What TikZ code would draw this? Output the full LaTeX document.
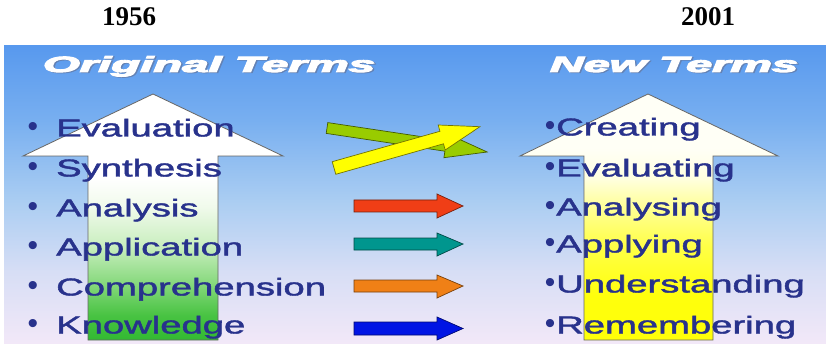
\documentclass[tikz,border=0pt]{standalone}
\usepackage{fontspec}
\usepackage{graphicx}
\setmainfont{Liberation Sans}
\newfontfamily\yearfont{Liberation Serif}
\newfontfamily\titlefont{Liberation Sans Bold Italic}
\definecolor{termblue}{RGB}{40,50,140}
\definecolor{tshadow}{RGB}{100,130,180}
\definecolor{bgA}{RGB}{88,153,238}
\definecolor{bgB}{RGB}{120,175,240}
\definecolor{bgC}{RGB}{170,205,242}
\definecolor{bgD}{RGB}{215,222,245}
\definecolor{bgE}{RGB}{242,232,248}
\definecolor{gA}{RGB}{50,185,50}
\definecolor{gB}{RGB}{72,195,66}
\definecolor{gC}{RGB}{130,215,120}
\definecolor{gD}{RGB}{200,238,190}
\definecolor{gE}{RGB}{240,250,235}
\definecolor{yA}{RGB}{255,255,0}
\definecolor{yB}{RGB}{255,255,12}
\definecolor{yC}{RGB}{255,255,70}
\definecolor{yD}{RGB}{255,255,150}
\definecolor{yE}{RGB}{255,255,225}
\definecolor{yF}{RGB}{255,255,246}
\definecolor{arRed}{RGB}{240,62,22}
\definecolor{arTeal}{RGB}{0,150,142}
\definecolor{arOrange}{RGB}{240,128,22}
\definecolor{arBlue}{RGB}{0,20,228}
\definecolor{arGreen}{RGB}{153,204,0}
\definecolor{arYellow}{RGB}{255,255,0}
\pgfdeclareverticalshading{bgshade}{100bp}{color(0bp)=(bgE); color(25bp)=(bgE); color(37bp)=(bgD); color(49bp)=(bgC); color(62.5bp)=(bgB); color(75bp)=(bgA); color(100bp)=(bgA)}
\pgfdeclareverticalshading{greenshade}{100bp}{color(0bp)=(gA); color(25bp)=(gA); color(30bp)=(gB); color(36bp)=(gC); color(44bp)=(gD); color(52bp)=(gE); color(58bp)=(white); color(100bp)=(white)}
\pgfdeclareverticalshading{yellowshade}{100bp}{color(0bp)=(yA); color(34bp)=(yB); color(44bp)=(yC); color(52bp)=(yD); color(58bp)=(yE); color(64bp)=(yF); color(100bp)=(yF)}
% stroked (heavier) text through the PDF text render mode
\newcommand{\strk}[2]{\special{pdf:literal direct 2 Tr #1 w}#2\special{pdf:literal direct 0 Tr}}
\newcommand{\titletext}[2]{\resizebox{#1}{\height}{\strk{0.9}{\rlap{\kern0.7pt\raisebox{-0.8pt}{\textcolor{tshadow}{#2}}}#2}}}
\newcommand{\wide}[1]{\scalebox{1.56}[1]{\strk{0.35}{#1}}}
\tikzset{
  year/.style={inner sep=0pt, font=\yearfont\bfseries\fontsize{27}{30}\selectfont},
  title/.style={inner sep=0pt, anchor=base, text=white, font=\titlefont\fontsize{22}{26}\selectfont},
  term/.style={inner sep=0pt, anchor=base west, text=termblue, font=\fontsize{24.5}{29}\selectfont},
  dot/.style={inner sep=0pt, text=termblue, font=\fontsize{30}{34}\selectfont},
  bigarrow/.style={draw=black!60, line width=0.8pt},
  smallarrow/.style={line width=0.7pt, line join=miter},
}
\begin{document}
\begin{tikzpicture}[x=1pt,y=-1pt]
\useasboundingbox (0,0) rectangle (826,347);
% background panel
\shade[shading=bgshade] (4,46) rectangle (826,343);
% years
\node[year] (y1956) at (129,17) {1956};
\node[year] (y2001) at (708,17) {2001};
% titles
\node[title] (orig) at (209,72) {\titletext{332pt}{Original Terms}};
\node[title] (new) at (674,72) {\titletext{248pt}{New Terms}};
% big arrows
\shade[shading=greenshade] (88,340) -- (88,156) -- (23,156) -- (153,94) -- (283,156) -- (218,156) -- (218,340) -- cycle;
\draw[bigarrow] (88,340) -- (88,156) -- (23,156) -- (153,94) -- (283,156) -- (218,156) -- (218,340) -- cycle;
\shade[shading=yellowshade] (584,340) -- (584,156) -- (520,156) -- (648,94) -- (778,156) -- (713,156) -- (713,340) -- cycle;
\draw[bigarrow] (584,340) -- (584,156) -- (520,156) -- (648,94) -- (778,156) -- (713,156) -- (713,340) -- cycle;
% crossed arrows
\filldraw[smallarrow, fill=arGreen, draw=arGreen!45!black] (327.8,122.6) -- (326.2,133.4) -- (444.9,151.2) -- (443.9,157.7) -- (487.2,152.0) -- (447.5,133.9) -- (446.5,140.4) -- cycle;
\filldraw[smallarrow, fill=arYellow, draw=arYellow!45!black] (332.2,161.7) -- (335.8,174.3) -- (443.5,143.8) -- (445.2,150.0) -- (479.9,126.7) -- (438.2,125.0) -- (439.9,131.3) -- cycle;
% straight arrows
\filldraw[smallarrow, fill=arRed, draw=arRed!50!black] (354,200) -- (437,200) -- (437,194) -- (463,206) -- (437,218) -- (437,212) -- (354,212) -- cycle;
\filldraw[smallarrow, fill=arTeal, draw=arTeal!50!black] (354,238) -- (437,238) -- (437,233) -- (463,244) -- (437,256) -- (437,250) -- (354,250) -- cycle;
\filldraw[smallarrow, fill=arOrange, draw=arOrange!50!black] (354,280) -- (437,280) -- (437,275) -- (463,286) -- (437,298) -- (437,292) -- (354,292) -- cycle;
\filldraw[smallarrow, fill=arBlue, draw=arBlue!50!black] (354,322) -- (437,322) -- (437,317) -- (463,328.5) -- (437,340) -- (437,335) -- (354,335) -- cycle;
% left terms
\node[dot] (lb1) at (33,129) {•};
\node[dot] (lb2) at (33,169) {•};
\node[dot] (lb3) at (33,209) {•};
\node[dot] (lb4) at (33,248) {•};
\node[dot] (lb5) at (33,288) {•};
\node[dot] (lb6) at (33,326) {•};
\node[term] (l1) at (56,136.5) {\wide{Evaluation}};
\node[term] (l2) at (56,176.5) {\wide{Synthesis}};
\node[term] (l3) at (56,216.5) {\wide{Analysis}};
\node[term] (l4) at (56,255.5) {\wide{Application}};
\node[term] (l5) at (56,295.5) {\wide{Comprehension}};
\node[term] (l6) at (56,333.5) {\wide{Knowledge}};
% right terms
\node[dot] (rb1) at (550,128) {•};
\node[dot] (rb2) at (550,169) {•};
\node[dot] (rb3) at (550,208) {•};
\node[dot] (rb4) at (550,245) {•};
\node[dot] (rb5) at (550,285) {•};
\node[dot] (rb6) at (550,326) {•};
\node[term] (r1) at (556,135.5) {\wide{Creating}};
\node[term] (r2) at (556,176.5) {\wide{Evaluating}};
\node[term] (r3) at (556,215.5) {\wide{Analysing}};
\node[term] (r4) at (556,252.5) {\wide{Applying}};
\node[term] (r5) at (556,292.5) {\wide{Understanding}};
\node[term] (r6) at (556,333.5) {\wide{Remembering}};
\end{tikzpicture}
\end{document}
